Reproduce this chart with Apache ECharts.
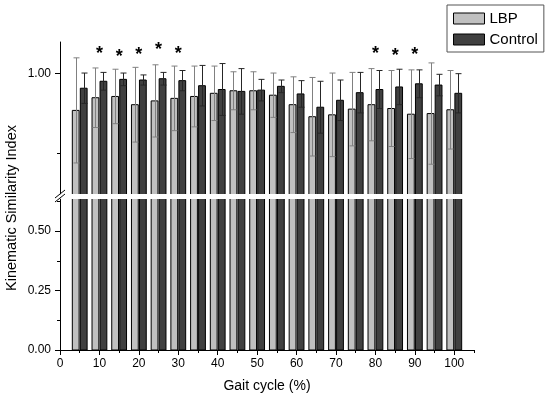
<!DOCTYPE html>
<html><head><meta charset="utf-8">
<script src="https://cdn.jsdelivr.net/npm/echarts@6/dist/echarts.min.js"></script>
<style>html,body{margin:0;padding:0;background:#fff}#c{width:550px;height:399px}</style>
</head><body><div id="c"></div>
<script>
// ---- data ----
const gaitCycle = [5, 10, 15, 20, 25, 30, 35, 40, 45, 50, 55, 60, 65, 70, 75, 80, 85, 90, 95, 100];
const lbpMean = [0.942, 0.962, 0.964, 0.951, 0.957, 0.961, 0.964, 0.969, 0.973, 0.973, 0.966, 0.951, 0.932, 0.935, 0.944, 0.951, 0.945, 0.936, 0.937, 0.943];
const lbpSD   = [0.083, 0.047, 0.043, 0.059, 0.057, 0.051, 0.048, 0.043, 0.030, 0.030, 0.035, 0.044, 0.062, 0.066, 0.058, 0.057, 0.060, 0.070, 0.080, 0.062];
const ctrlMean = [0.977, 0.988, 0.991, 0.990, 0.992, 0.989, 0.981, 0.975, 0.972, 0.974, 0.980, 0.968, 0.947, 0.958, 0.970, 0.975, 0.979, 0.984, 0.982, 0.969];
const ctrlSD   = [0.024, 0.014, 0.010, 0.008, 0.010, 0.016, 0.032, 0.041, 0.036, 0.017, 0.010, 0.021, 0.041, 0.032, 0.032, 0.030, 0.028, 0.022, 0.017, 0.031];
const sigX = [10, 15, 20, 25, 30, 80, 85, 90];
const sigY = [1.037, 1.032, 1.036, 1.043, 1.037, 1.038, 1.034, 1.035];
const xTicks = [0, 10, 20, 30, 40, 50, 60, 70, 80, 90, 100];
const xMinorTicks = [5, 15, 25, 35, 45, 55, 65, 75, 85, 95, 105];
const yLowTicks = [0, 0.25, 0.5];
const yLowMinor = [0.125, 0.375, 0.625];
const yHighTicks = [1.0];
const yHighMinor = [0.875];
const seriesNames = ['LBP', 'Control'];

// ---- style ----
const FONT = '"Liberation Sans", Arial, sans-serif';
const BAR_W = 6.8, HALF_GAP = 0.6, CAP = 6;
const LBP_FILL = '#c0c0c0', CTRL_FILL = '#404040';
const LBP_ERR = '#808080', CTRL_ERR = '#262626';

const chart = echarts.init(document.getElementById('c'), null, {renderer: 'canvas'});

function barRenderer(side, fill) {
  return function (params, api) {
    const x = api.value(0), v = api.value(1);
    const pTop = api.coord([x, v]);
    const pBase = api.coord([x, 0]);
    const c = pTop[0];
    const x0 = side < 0 ? c - HALF_GAP - BAR_W : c + HALF_GAP;
    return {
      type: 'rect',
      shape: {x: x0, y: pTop[1], width: BAR_W, height: pBase[1] - pTop[1]},
      style: {fill: fill, stroke: '#000', lineWidth: 1}
    };
  };
}
function errRenderer(side, color) {
  return function (params, api) {
    const x = api.value(0), m = api.value(1), s = api.value(2);
    const pt = api.coord([x, m + s]);
    const pb = api.coord([x, m - s]);
    const cx = Math.round(pt[0] + side * (HALF_GAP + BAR_W / 2)) + 0.5;
    const st = {stroke: color, lineWidth: 1};
    return {
      type: 'group',
      children: [
        {type: 'line', shape: {x1: cx, y1: pt[1], x2: cx, y2: pb[1]}, style: st},
        {type: 'line', shape: {x1: cx - CAP / 2, y1: pt[1], x2: cx + CAP / 2, y2: pt[1]}, style: st},
        {type: 'line', shape: {x1: cx - CAP / 2, y1: pb[1], x2: cx + CAP / 2, y2: pb[1]}, style: st}
      ]
    };
  };
}

const lbpBars = gaitCycle.map((x, i) => [x, lbpMean[i]]);
const ctrlBars = gaitCycle.map((x, i) => [x, ctrlMean[i]]);
const lbpErr = gaitCycle.map((x, i) => [x, lbpMean[i], lbpSD[i]]);
const ctrlErr = gaitCycle.map((x, i) => [x, ctrlMean[i], ctrlSD[i]]);
const stars = sigX.map((x, i) => [x, sigY[i]]);

const axisLine = {show: true, lineStyle: {color: '#000', width: 1}};
const lbl = {color: '#000', fontSize: 12, fontFamily: FONT};

const option = {
  animation: false,
  backgroundColor: '#fff',
  grid: [
    {left: 60, top: 42, width: 414, height: 152},
    {left: 60, top: 199, width: 414, height: 151}
  ],
  xAxis: [
    {gridIndex: 0, type: 'value', min: 0, max: 105, show: false},
    {gridIndex: 1, type: 'value', min: 0, max: 105, position: 'bottom',
     axisLine: axisLine, splitLine: {show: false},
     axisTick: {show: true, inside: false, length: 5, customValues: xTicks, lineStyle: {color: '#000'}},
     axisLabel: {customValues: xTicks, margin: 8, ...lbl},
     name: 'Gait cycle (%)', nameLocation: 'middle', nameGap: 29,
     nameTextStyle: {color: '#000', fontSize: 14, fontFamily: FONT}},
    {gridIndex: 1, type: 'value', min: 0, max: 105, position: 'bottom',
     axisLine: {show: false}, splitLine: {show: false}, axisLabel: {show: false},
     axisTick: {show: true, length: 3, customValues: xMinorTicks, lineStyle: {color: '#000'}}}
  ],
  yAxis: [
    {gridIndex: 0, type: 'value', min: 0.81, max: 1.05, position: 'left',
     axisLine: axisLine, splitLine: {show: false},
     axisTick: {show: true, length: 5, customValues: yHighTicks, lineStyle: {color: '#000'}},
     axisLabel: {customValues: yHighTicks, margin: 9, formatter: v => v.toFixed(2), ...lbl}},
    {gridIndex: 1, type: 'value', min: 0, max: 0.635, position: 'left',
     axisLine: axisLine, splitLine: {show: false},
     axisTick: {show: true, length: 5, customValues: yLowTicks, lineStyle: {color: '#000'}},
     axisLabel: {customValues: yLowTicks, margin: 9, formatter: v => v.toFixed(2), ...lbl}},
    {gridIndex: 0, type: 'value', min: 0.81, max: 1.05, position: 'left',
     axisLine: {show: false}, splitLine: {show: false}, axisLabel: {show: false},
     axisTick: {show: true, length: 3, customValues: yHighMinor, lineStyle: {color: '#000'}}},
    {gridIndex: 1, type: 'value', min: 0, max: 0.635, position: 'left',
     axisLine: {show: false}, splitLine: {show: false}, axisLabel: {show: false},
     axisTick: {show: true, length: 3, customValues: yLowMinor, lineStyle: {color: '#000'}}}
  ],
  legend: {
    data: seriesNames, orient: 'vertical', left: 447, top: 5,
    padding: [6, 6, 5, 6], itemGap: 6, itemWidth: 31, itemHeight: 11, icon: 'rect',
    borderColor: '#555', borderWidth: 1,
    itemStyle: {borderColor: '#000', borderWidth: 1},
    textStyle: {color: '#000', fontSize: 15, fontFamily: FONT, lineHeight: 12}
  },
  graphic: [
    {type: 'text', x: 12, y: 208, rotation: Math.PI / 2,
     style: {text: 'Kinematic Similarity Index', font: '14.5px ' + FONT, fill: '#000',
             textAlign: 'center', textVerticalAlign: 'middle'}},
    {type: 'rect', shape: {x: 50, y: 194.5, width: 20, height: 4}, style: {fill: '#fff'}, z: 100},
    {type: 'line', shape: {x1: 55, y1: 198, x2: 65, y2: 190}, style: {stroke: '#000', lineWidth: 1}, z: 101},
    {type: 'line', shape: {x1: 55, y1: 202, x2: 65, y2: 194}, style: {stroke: '#000', lineWidth: 1}, z: 101}
  ],
  series: [
    {name: 'LBP', type: 'custom', xAxisIndex: 0, yAxisIndex: 0, clip: true, data: lbpBars,
     encode: {x: 0, y: 1}, renderItem: barRenderer(-1, LBP_FILL),
     itemStyle: {color: LBP_FILL, borderColor: '#000', borderWidth: 1}},
    {name: 'Control', type: 'custom', xAxisIndex: 0, yAxisIndex: 0, clip: true, data: ctrlBars,
     encode: {x: 0, y: 1}, renderItem: barRenderer(1, CTRL_FILL),
     itemStyle: {color: CTRL_FILL, borderColor: '#000', borderWidth: 1}},
    {name: 'LBP', type: 'custom', xAxisIndex: 1, yAxisIndex: 1, clip: true, data: lbpBars,
     encode: {x: 0, y: 1}, renderItem: barRenderer(-1, LBP_FILL),
     itemStyle: {color: LBP_FILL, borderColor: '#000', borderWidth: 1}},
    {name: 'Control', type: 'custom', xAxisIndex: 1, yAxisIndex: 1, clip: true, data: ctrlBars,
     encode: {x: 0, y: 1}, renderItem: barRenderer(1, CTRL_FILL),
     itemStyle: {color: CTRL_FILL, borderColor: '#000', borderWidth: 1}},
    {name: 'LBP SD', type: 'custom', xAxisIndex: 0, yAxisIndex: 0, clip: true, data: lbpErr, z: 5,
     encode: {x: 0, y: 1}, renderItem: errRenderer(-1, LBP_ERR)},
    {name: 'Control SD', type: 'custom', xAxisIndex: 0, yAxisIndex: 0, clip: true, data: ctrlErr, z: 5,
     encode: {x: 0, y: 1}, renderItem: errRenderer(1, CTRL_ERR)},
    {name: 'significance', type: 'custom', xAxisIndex: 0, yAxisIndex: 0, data: stars, z: 6,
     encode: {x: 0, y: 1},
     renderItem: function (params, api) {
       const p = api.coord([api.value(0), api.value(1)]);
       return {type: 'text', x: p[0], y: p[1] + 4,
               style: {text: '*', font: 'bold 18px ' + FONT, fill: '#000', textAlign: 'center', textVerticalAlign: 'middle'}};
     }}
  ]
};
chart.setOption(option);
</script>
</body></html>
